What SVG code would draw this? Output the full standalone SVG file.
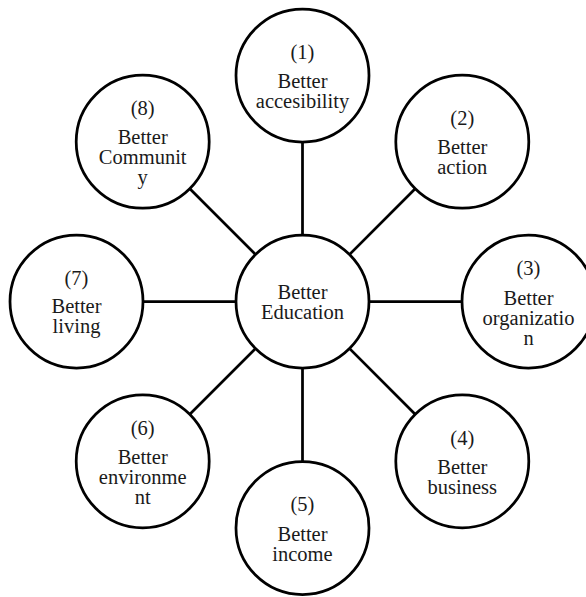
<svg xmlns="http://www.w3.org/2000/svg" width="586" height="597" viewBox="0 0 586 597">
  <style>
    .node circle { fill: #ffffff; stroke: #000000; stroke-width: 2.75; }
    .node text { font-family: "Liberation Serif", "Times New Roman", serif; font-size: 20.5px; fill: #1a1a1a; text-anchor: middle; }
    .conn line { stroke: #000000; stroke-width: 2.75; }
  </style>
  <rect width="586" height="597" fill="#ffffff"/>
  <g id="connectors" class="conn">
    <line x1="302.5" y1="234.5" x2="302.5" y2="142.5"/>
    <line x1="349.88" y1="254.12" x2="414.93" y2="189.07"/>
    <line x1="369.5" y1="301.5" x2="461.5" y2="301.5"/>
    <line x1="349.88" y1="348.88" x2="414.93" y2="413.93"/>
    <line x1="302.5" y1="368.5" x2="302.5" y2="461"/>
    <line x1="255.12" y1="348.88" x2="190.07" y2="413.93"/>
    <line x1="235.5" y1="301.5" x2="143.5" y2="301.5"/>
    <line x1="255.12" y1="254.12" x2="190.07" y2="189.07"/>
  </g>
  <g id="center" class="node">
    <circle cx="302.5" cy="301.5" r="66.5"/>
    <text x="302.5" y="298.5">Better</text>
    <text x="302.5" y="318.5">Education</text>
  </g>
  <g id="n1" class="node">
    <circle cx="302.5" cy="75.5" r="66.5"/>
    <text x="302.5" y="58.5">(1)</text>
    <text x="302.5" y="88">Better</text>
    <text x="302.5" y="108">accesibility</text>
  </g>
  <g id="n2" class="node">
    <circle cx="462.3" cy="141.7" r="66.5"/>
    <text x="462.3" y="124.5">(2)</text>
    <text x="462.3" y="154">Better</text>
    <text x="462.3" y="174">action</text>
  </g>
  <g id="n3" class="node">
    <circle cx="528.5" cy="301.5" r="66.5"/>
    <text x="528.5" y="274.5">(3)</text>
    <text x="528.5" y="304.5">Better</text>
    <text x="528.5" y="324.5">organizatio</text>
    <text x="528.5" y="344.5">n</text>
  </g>
  <g id="n4" class="node">
    <circle cx="462.3" cy="461.3" r="66.5"/>
    <text x="462.3" y="444.5">(4)</text>
    <text x="462.3" y="473.5">Better</text>
    <text x="462.3" y="493.5">business</text>
  </g>
  <g id="n5" class="node">
    <circle cx="302.5" cy="528" r="66.5"/>
    <text x="302.5" y="511">(5)</text>
    <text x="302.5" y="540.5">Better</text>
    <text x="302.5" y="560.5">income</text>
  </g>
  <g id="n6" class="node">
    <circle cx="142.7" cy="461.3" r="66.5"/>
    <text x="142.7" y="434.5">(6)</text>
    <text x="142.7" y="464">Better</text>
    <text x="142.7" y="484">environme</text>
    <text x="142.7" y="504">nt</text>
  </g>
  <g id="n7" class="node">
    <circle cx="76.5" cy="301.5" r="66.5"/>
    <text x="76.5" y="284.5">(7)</text>
    <text x="76.5" y="313">Better</text>
    <text x="76.5" y="333">living</text>
  </g>
  <g id="n8" class="node">
    <circle cx="142.7" cy="141.7" r="66.5"/>
    <text x="142.7" y="114.5">(8)</text>
    <text x="142.7" y="144">Better</text>
    <text x="142.7" y="164">Communit</text>
    <text x="142.7" y="184">y</text>
  </g>
</svg>
